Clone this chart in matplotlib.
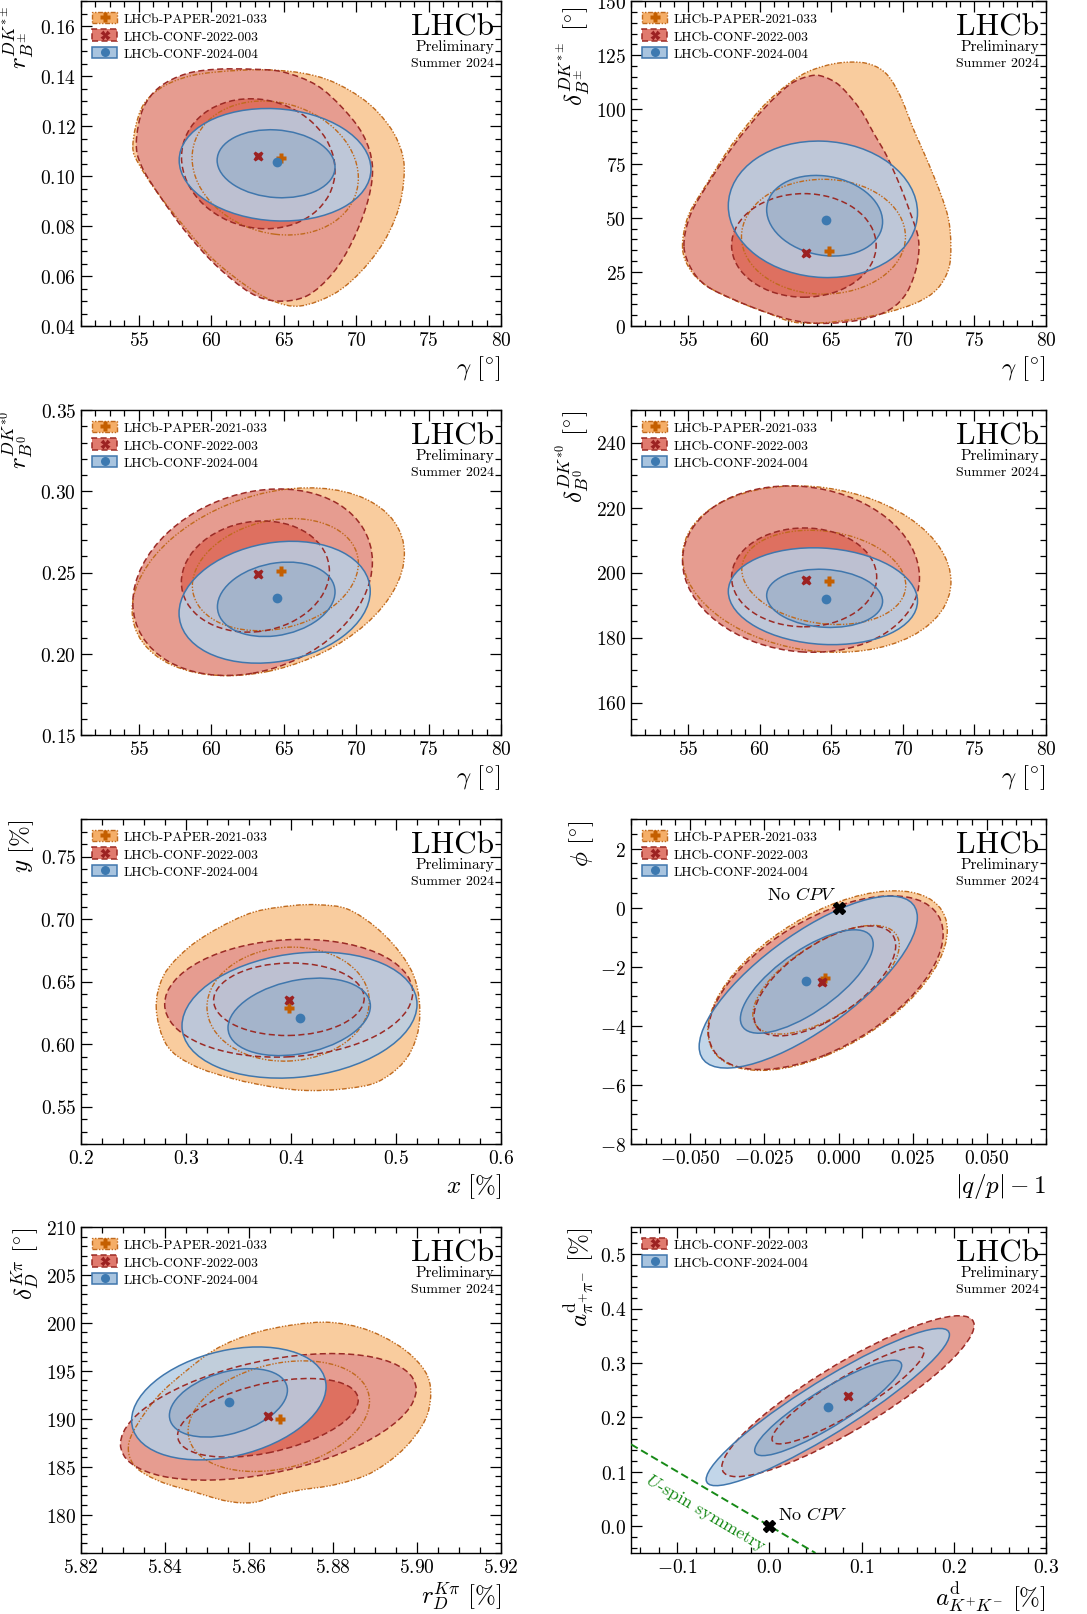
import numpy as np
import matplotlib
matplotlib.use("Agg")
import matplotlib.pyplot as plt
from matplotlib.path import Path
from matplotlib.patches import PathPatch, Patch
from matplotlib.lines import Line2D
from matplotlib.transforms import Affine2D
from matplotlib.ticker import MultipleLocator, FuncFormatter

plt.rcParams.update({
    "font.family": "serif",
    "font.serif": ["cmr10"],
    "mathtext.fontset": "cm",
    "axes.unicode_minus": False,
    "axes.formatter.use_mathtext": True,
})

# ---------------------------------------------------------------------------
# Data.  Ellipse-like contours: (centre x, centre y, half extent x,
# half extent y, correlation).  Irregular contours: lists of boundary points.
# ---------------------------------------------------------------------------
LABELS = ["LHCb-PAPER-2021-033", "LHCb-CONF-2022-003", "LHCb-CONF-2024-004"]

# Panel 1: gamma vs r_B^{DK*+-}
P1_ORANGE_2S_X = [54.58, 55.16, 56.43, 58.27, 60.35, 63.35, 66.12, 68.42, 70.73, 72.34, 73.15, 73.31,
                  72.92, 71.88, 70.27, 68.42, 66.12, 64.27, 62.43, 60.12, 58.27, 56.43, 55.05]
P1_ORANGE_2S_Y = [0.1122, 0.1269, 0.1349, 0.1396, 0.1416, 0.1425, 0.1413, 0.1376, 0.1296, 0.1195, 0.1095,
                  0.1002, 0.0868, 0.0734, 0.0614, 0.0527, 0.0480, 0.0500, 0.0560, 0.0667, 0.0788, 0.0921, 0.1042]
P1_ORANGE_1S = (64.41, 0.1032, 5.74, 0.0268, -0.15)
P1_RED_2S_X = [54.82, 55.28, 56.43, 58.27, 60.35, 62.89, 64.96, 67.27, 69.11, 70.50, 71.12, 70.84,
               69.81, 68.42, 66.58, 64.50, 62.66, 60.35, 58.27, 56.43, 55.16]
P1_RED_2S_Y = [0.1135, 0.1269, 0.1356, 0.1409, 0.1427, 0.1427, 0.1416, 0.1363, 0.1269, 0.1162, 0.1042,
               0.0908, 0.0748, 0.0614, 0.0520, 0.0500, 0.0534, 0.0641, 0.0774, 0.0921, 0.1042]
P1_RED_1S = (63.24, 0.1049, 5.30, 0.0260, -0.10)
P1_BLUE_2S = (64.40, 0.1045, 6.62, 0.0225, -0.08)
P1_BLUE_1S = (64.47, 0.1049, 4.07, 0.0136, -0.10)
P1_BEST = [(64.80, 0.1071), (63.19, 0.1082), (64.55, 0.1058)]

# Panel 2: gamma vs delta_B^{DK*+-}
P2_ORANGE_2S_X = [54.60, 55.00, 56.28, 58.15, 60.48, 62.81, 64.68, 66.31, 67.71, 68.87, 69.81, 70.74, 71.67,
                  72.61, 73.19, 73.35, 73.19, 72.37, 70.97, 68.87, 66.78, 64.44, 62.35, 60.48, 58.38, 56.28, 55.12]
P2_ORANGE_2S_Y = [36.2, 50.8, 65.4, 84.6, 103.1, 115.4, 120.3, 121.8, 120.8, 116.2, 106.2, 90.8, 76.9,
                  61.5, 49.2, 36.9, 26.2, 16.9, 10.8, 6.2, 3.4, 1.5, 1.8, 6.2, 11.5, 18.5, 26.2]
P2_ORANGE_1S = (64.45, 41.2, 5.73, 26.5, 0.0)
P2_RED_2S_X = [54.70, 55.12, 56.28, 58.15, 60.25, 62.11, 63.51, 64.44, 65.61, 67.01, 67.94, 68.87, 69.81,
               70.51, 71.09, 70.97, 70.27, 69.11, 67.24, 64.68, 62.58, 60.48, 58.15, 56.28, 55.23]
P2_RED_2S_Y = [36.9, 50.8, 64.6, 83.1, 100.0, 111.5, 115.4, 115.1, 110.8, 100.0, 89.2, 78.5, 64.6,
               52.3, 40.0, 27.7, 15.4, 7.7, 3.1, 1.2, 2.3, 6.2, 12.3, 18.5, 26.2]
P2_RED_1S = (63.08, 37.2, 5.05, 23.9, 0.0)
P2_BLUE_2S = (64.41, 53.85, 6.61, 31.5, -0.05)
P2_BLUE_1S = (64.53, 50.9, 4.05, 18.6, -0.15)
P2_BEST = [(64.82, 34.6), (63.23, 33.8), (64.61, 48.9)]

# Panel 3: gamma vs r_B^{DK*0}
P3_ORANGE_2S = (63.93, 0.2443, 9.40, 0.0578, 0.30)
P3_ORANGE_1S = (64.42, 0.2487, 5.73, 0.0345, 0.20)
P3_RED_2S = (62.85, 0.2440, 8.27, 0.0574, 0.22)
P3_RED_1S = (63.04, 0.2475, 5.11, 0.0342, 0.10)
P3_BLUE_2S = (64.37, 0.2317, 6.60, 0.0375, 0.18)
P3_BLUE_1S = (64.48, 0.2335, 4.06, 0.0229, 0.20)
P3_BEST = [(64.78, 0.2507), (63.19, 0.2491), (64.55, 0.2343)]

# Panel 4: gamma vs delta_B^{DK*0}
P4_ORANGE_2S = (63.98, 201.05, 9.38, 25.6, -0.15)
P4_ORANGE_1S = (64.47, 198.5, 5.73, 14.5, -0.17)
P4_RED_2S = (62.88, 201.05, 8.28, 25.6, -0.10)
P4_RED_1S = (63.10, 198.5, 5.07, 15.2, 0.0)
P4_BLUE_2S = (64.41, 192.7, 6.61, 14.9, -0.10)
P4_BLUE_1S = (64.53, 192.05, 4.05, 8.95, -0.10)
P4_BEST = [(64.82, 197.3), (63.23, 197.6), (64.61, 191.9)]

# Panel 5: x vs y
P5_ORANGE_2S_X = [0.2717, 0.2787, 0.3010, 0.3295, 0.3644, 0.4025, 0.4279, 0.4533, 0.4787, 0.5010, 0.5168,
                  0.5225, 0.5200, 0.5073, 0.4819, 0.4502, 0.4152, 0.3835, 0.3454, 0.3073, 0.2819]
P5_ORANGE_2S_Y = [0.6281, 0.6548, 0.6761, 0.6921, 0.7055, 0.7108, 0.7113, 0.7081, 0.6948, 0.6761, 0.6548,
                  0.6308, 0.6068, 0.5855, 0.5695, 0.5641, 0.5628, 0.5655, 0.5721, 0.5828, 0.5988]
P5_ORANGE_1S = (0.3973, 0.6319, 0.0773, 0.0456, 0.05)
P5_RED_2S = (0.3978, 0.6366, 0.1181, 0.0471, 0.10)
P5_RED_1S = (0.3980, 0.6358, 0.0717, 0.0290, 0.03)
P5_BLUE_2S = (0.4081, 0.6231, 0.1119, 0.0504, 0.17)
P5_BLUE_1S = (0.4078, 0.6217, 0.0678, 0.0310, 0.28)
P5_BEST = [(0.3978, 0.6289), (0.3981, 0.6353), (0.4083, 0.6209)]

# Panel 6: |q/p|-1 vs phi
P6_ORANGE_2S = (-0.0037, -2.47, 0.0404, 3.04, 0.56)
P6_ORANGE_1S = (-0.0042, -2.44, 0.0247, 1.84, 0.64)
P6_RED_2S = (-0.0043, -2.54, 0.0396, 2.94, 0.56)
P6_RED_1S = (-0.0046, -2.48, 0.0239, 1.86, 0.64)
P6_BLUE_2S = (-0.0102, -2.52, 0.0368, 2.91, 0.75)
P6_BLUE_1S = (-0.0107, -2.50, 0.0224, 1.75, 0.72)
P6_BEST = [(-0.0044, -2.38), (-0.0056, -2.50), (-0.0111, -2.49)]
P6_NO_CPV = (0.0, 0.0)

# Panel 7: r_D^{Kpi} vs delta_D^{Kpi}
P7_ORANGE_2S_X = [5.8313, 5.8325, 5.8381, 5.8452, 5.8524, 5.8611, 5.8706, 5.8794, 5.8881, 5.8960, 5.9012, 5.9032,
                  5.9025, 5.8992, 5.8944, 5.8881, 5.8802, 5.8722, 5.8667, 5.8611, 5.8548, 5.8468, 5.8389, 5.8333]
P7_ORANGE_2S_Y = [186.61, 188.72, 192.24, 195.05, 197.34, 198.92, 199.80, 200.05, 199.28, 197.52, 195.41, 193.30,
                  190.48, 188.02, 185.91, 184.15, 183.10, 182.57, 182.04, 181.27, 181.41, 182.39, 183.45, 184.85]
P7_ORANGE_1S = (5.8671, 190.27, 0.0216, 5.77, 0.27)
P7_RED_2S = (5.8646, 190.2, 0.0352, 6.6, 0.43)
P7_RED_1S = (5.8645, 190.1, 0.0215, 4.1, 0.45)
P7_BLUE_2S = (5.8552, 191.6, 0.02315, 5.89, 0.30)
P7_BLUE_1S = (5.8551, 191.66, 0.01405, 3.57, 0.37)
P7_BEST = [(5.8673, 189.95), (5.8645, 190.24), (5.8552, 191.71)]

# Panel 8: a^d_KK vs a^d_pipi
P8_RED_2S = (0.0853, 0.2386, 0.1368, 0.1481, 0.88)
P8_RED_1S = (0.0853, 0.2401, 0.0824, 0.0893, 0.90)
P8_BLUE_2S = (0.0634, 0.2186, 0.1319, 0.1447, 0.92)
P8_BLUE_1S = (0.0638, 0.2170, 0.0797, 0.0878, 0.89)
P8_BEST = [None, (0.0855, 0.2389), (0.0638, 0.2180)]
P8_NO_CPV = (0.0, 0.0)
P8_USPIN_X = [-0.15, 0.05]
P8_USPIN_Y = [0.15, -0.05]

# ---------------------------------------------------------------------------
# Styles
# ---------------------------------------------------------------------------
FILL = {0: ("#f9cc9e", "#f6b77a"), 1: ("#e69c90", "#de7060"), 2: ("#b8cfe6", "#a0b2ca")}
FILL_ALPHA = {0: 1.0, 1: 1.0, 2: 0.85}
EDGE = {0: "#c06a1e", 1: "#9b2b26", 2: "#4077ad"}
LS = {0: (0, (3.5, 1.2, 1, 1.2, 1, 1.2)), 1: (0, (4, 2.2)), 2: "-"}
LW = {0: 1.0, 1: 1.1, 2: 1.1}
MARK = {0: "P", 1: "X", 2: "o"}
MCOL = {0: "#c45f00", 1: "#9c2222", 2: "#3d79b0"}
MSIZE = {0: 7.5, 1: 7.5, 2: 7}
HANDLE_FC = {0: "#f5ae68", 1: "#e07a6e", 2: "#a8c4df"}


def contour_path(spec):
    if len(spec) == 5:
        cx, cy, hx, hy, rho = spec
        m = np.array([[hx, 0.0, cx], [hy * rho, hy * np.sqrt(1 - rho ** 2), cy], [0, 0, 1]])
        return Path.unit_circle().transformed(Affine2D(m))
    P = np.column_stack(spec).astype(float)
    n = len(P)
    verts = [P[0]]
    codes = [Path.MOVETO]
    for i in range(n):
        p0, p1, p2, p3 = P[i - 1], P[i], P[(i + 1) % n], P[(i + 2) % n]
        verts += [p1 + (p2 - p0) / 6.0, p2 - (p3 - p1) / 6.0, p2]
        codes += [Path.CURVE4] * 3
    verts.append(P[0])
    codes.append(Path.CLOSEPOLY)
    return Path(np.array(verts), codes)


def tick_fmt(d):
    return FuncFormatter(lambda v, p: f"${round(v, d) + 0.0:.{d}f}$")


PANELS = [
    dict(rect=(81, 2, 420, 325), xlim=(51, 80), ylim=(0.04, 0.17), xmaj=5, xmin=1, ymaj=0.02, ymin=0.005,
         xd=0, yd=2, xlabel=r"$\gamma\ [^{\circ}]$", ylabel=r"$r_{B^{\pm}}^{DK^{*\pm}}$",
         contours={0: ((P1_ORANGE_2S_X, P1_ORANGE_2S_Y), P1_ORANGE_1S), 1: ((P1_RED_2S_X, P1_RED_2S_Y), P1_RED_1S),
                   2: (P1_BLUE_2S, P1_BLUE_1S)}, best=P1_BEST),
    dict(rect=(631, 2, 415, 325), xlim=(51, 80), ylim=(0, 150), xmaj=5, xmin=1, ymaj=25, ymin=5,
         xd=0, yd=0, xlabel=r"$\gamma\ [^{\circ}]$", ylabel=r"$\delta_{B^{\pm}}^{DK^{*\pm}}\ [^{\circ}]$",
         contours={0: ((P2_ORANGE_2S_X, P2_ORANGE_2S_Y), P2_ORANGE_1S), 1: ((P2_RED_2S_X, P2_RED_2S_Y), P2_RED_1S),
                   2: (P2_BLUE_2S, P2_BLUE_1S)}, best=P2_BEST),
    dict(rect=(81, 411, 420, 325), xlim=(51, 80), ylim=(0.15, 0.35), xmaj=5, xmin=1, ymaj=0.05, ymin=0.01,
         xd=0, yd=2, xlabel=r"$\gamma\ [^{\circ}]$", ylabel=r"$r_{B^{0}}^{DK^{*0}}$",
         contours={0: (P3_ORANGE_2S, P3_ORANGE_1S), 1: (P3_RED_2S, P3_RED_1S), 2: (P3_BLUE_2S, P3_BLUE_1S)},
         best=P3_BEST),
    dict(rect=(631, 411, 415, 325), xlim=(51, 80), ylim=(150, 250), xmaj=5, xmin=1, ymaj=20, ymin=5,
         xd=0, yd=0, xlabel=r"$\gamma\ [^{\circ}]$", ylabel=r"$\delta_{B^{0}}^{DK^{*0}}\ [^{\circ}]$",
         contours={0: (P4_ORANGE_2S, P4_ORANGE_1S), 1: (P4_RED_2S, P4_RED_1S), 2: (P4_BLUE_2S, P4_BLUE_1S)},
         best=P4_BEST),
    dict(rect=(81, 820, 420, 325), xlim=(0.2, 0.6), ylim=(0.52, 0.78), xmaj=0.1, xmin=0.02, ymaj=0.05, ymin=0.01,
         xd=1, yd=2, xlabel=r"$x\ [\%]$", ylabel=r"$y\ [\%]$",
         contours={0: ((P5_ORANGE_2S_X, P5_ORANGE_2S_Y), P5_ORANGE_1S), 1: (P5_RED_2S, P5_RED_1S),
                   2: (P5_BLUE_2S, P5_BLUE_1S)}, best=P5_BEST),
    dict(rect=(631, 820, 415, 325), xlim=(-0.07, 0.07), ylim=(-8, 3), xmaj=0.025, xmin=0.005, ymaj=2, ymin=0.5,
         xd=3, yd=0, xlabel=r"$|q/p|-1$", ylabel=r"$\phi\ [^{\circ}]$",
         contours={0: (P6_ORANGE_2S, P6_ORANGE_1S), 1: (P6_RED_2S, P6_RED_1S), 2: (P6_BLUE_2S, P6_BLUE_1S)},
         best=P6_BEST),
    dict(rect=(81, 1228, 420, 326), xlim=(5.82, 5.92), ylim=(176, 210), xmaj=0.02, xmin=0.005, ymaj=5, ymin=1,
         xd=2, yd=0, xlabel=r"$r_{D}^{K\pi}\ [\%]$", ylabel=r"$\delta_{D}^{K\pi}\ [^{\circ}]$",
         contours={0: ((P7_ORANGE_2S_X, P7_ORANGE_2S_Y), P7_ORANGE_1S), 1: (P7_RED_2S, P7_RED_1S),
                   2: (P7_BLUE_2S, P7_BLUE_1S)}, best=P7_BEST),
    dict(rect=(631, 1228, 415, 326), xlim=(-0.15, 0.3), ylim=(-0.05, 0.55), xmaj=0.1, xmin=0.02, ymaj=0.1, ymin=0.02,
         xd=1, yd=1, xlabel=r"$a^{\mathrm{d}}_{K^{+}K^{-}}\ [\%]$", ylabel=r"$a^{\mathrm{d}}_{\pi^{+}\pi^{-}}\ [\%]$",
         contours={1: (P8_RED_2S, P8_RED_1S), 2: (P8_BLUE_2S, P8_BLUE_1S)}, best=P8_BEST),
]

W, H = 1087, 1615
fig = plt.figure(figsize=(W / 100, H / 100), dpi=100)

for k, pan in enumerate(PANELS):
    x0, top, w, h = pan["rect"]
    ax = fig.add_axes([x0 / W, 1 - (top + h) / H, w / W, h / H])
    ax.set_xlim(*pan["xlim"])
    ax.set_ylim(*pan["ylim"])
    cont = pan["contours"]
    # fills
    for ds in (0, 1, 2):
        if ds not in cont:
            continue
        for lev in (0, 1):
            ax.add_patch(PathPatch(contour_path(cont[ds][lev]), fc=FILL[ds][lev], ec="none",
                                   alpha=FILL_ALPHA[ds], zorder=1 + ds))
    # outlines
    for ds in (0, 1, 2):
        if ds not in cont:
            continue
        for lev in (0, 1):
            ax.add_patch(PathPatch(contour_path(cont[ds][lev]), fill=False, ec=EDGE[ds], ls=LS[ds],
                                   lw=LW[ds], zorder=5 + ds * 0.1))
    # best-fit points
    for ds in (0, 1, 2):
        pt = pan["best"][ds]
        if pt is None:
            continue
        ax.plot([pt[0]], [pt[1]], marker=MARK[ds], ls="none", color=MCOL[ds], ms=MSIZE[ds],
                mec="none", zorder=7 + ds * 0.1)

    # ticks
    ax.xaxis.set_major_locator(MultipleLocator(pan["xmaj"]))
    ax.xaxis.set_minor_locator(MultipleLocator(pan["xmin"]))
    ax.yaxis.set_major_locator(MultipleLocator(pan["ymaj"]))
    ax.yaxis.set_minor_locator(MultipleLocator(pan["ymin"]))
    ax.xaxis.set_major_formatter(tick_fmt(pan["xd"]))
    ax.yaxis.set_major_formatter(tick_fmt(pan["yd"]))
    ax.tick_params(which="both", direction="in", top=True, right=True, labelsize=14, width=0.9)
    ax.tick_params(which="major", length=8)
    ax.tick_params(which="minor", length=4)
    for s in ax.spines.values():
        s.set_linewidth(1.0)
    ax.set_xlabel(pan["xlabel"], loc="right", fontsize=18, labelpad=3)
    ax.set_ylabel(pan["ylabel"], loc="top", fontsize=18, labelpad=3)
    if top < 10:
        ax.yaxis.label.set_y(1 - 4.0 / h)

    # LHCb label
    ax.annotate("LHCb", xy=(1, 1), xycoords="axes fraction", xytext=(-5, -24), textcoords="offset points",
                ha="right", va="baseline", fontsize=22.5, zorder=10)
    ax.annotate("Preliminary", xy=(1, 1), xycoords="axes fraction", xytext=(-5, -35), textcoords="offset points",
                ha="right", va="baseline", fontsize=11, zorder=10)
    ax.annotate("Summer 2024", xy=(1, 1), xycoords="axes fraction", xytext=(-5, -47), textcoords="offset points",
                ha="right", va="baseline", fontsize=10, zorder=10)

    # legend
    handles, labels = [], []
    for ds in (0, 1, 2):
        if ds not in cont:
            continue
        patch = Patch(fc=HANDLE_FC[ds], ec=EDGE[ds], ls=LS[ds], lw=LW[ds])
        mk = Line2D([], [], marker=MARK[ds], ls="none", color=MCOL[ds], ms=6.5, mec="none")
        handles.append((patch, mk))
        labels.append(LABELS[ds])
    ax.legend(handles, labels, loc="upper left", frameon=False, fontsize=9.7, handlelength=1.9,
              handleheight=0.9, handletextpad=0.45, labelspacing=0.33, borderaxespad=0.45, borderpad=0.35)

    if k == 5:
        ax.plot([P6_NO_CPV[0]], [P6_NO_CPV[1]], marker="X", color="black", ms=9, ls="none", zorder=9)
        ax.annotate(r"No $CPV$", xy=P6_NO_CPV, xytext=(-2, 4), textcoords="offset points",
                    ha="right", va="bottom", fontsize=13, zorder=9)
    if k == 7:
        ax.plot(P8_USPIN_X, P8_USPIN_Y, ls=(0, (4, 2)), color="#178a17", lw=1.4, zorder=8)
        ax.text(-0.128, 0.103, r"$U$-spin symmetry", color="#178a17", fontsize=13, rotation=-45,
                transform_rotates_text=True, rotation_mode="anchor", ha="left", va="top", zorder=8)
        ax.plot([P8_NO_CPV[0]], [P8_NO_CPV[1]], marker="X", color="black", ms=9, ls="none", zorder=9)
        ax.annotate(r"No $CPV$", xy=P8_NO_CPV, xytext=(6, 3), textcoords="offset points",
                    ha="left", va="bottom", fontsize=13, zorder=9)

fig.savefig("out.png", dpi=100)
